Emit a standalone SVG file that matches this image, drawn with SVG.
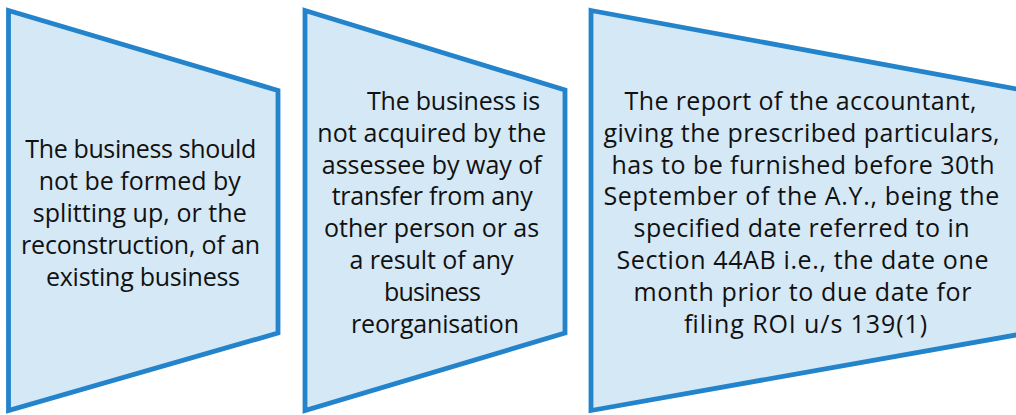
<svg xmlns="http://www.w3.org/2000/svg" width="1016" height="415" viewBox="0 0 1016 415">
<defs>
<style>
.shape{fill:#D5E8F6;stroke:#2383CB;stroke-width:4.8;stroke-linejoin:miter}
.t{font-family:"Open Sans","Noto Sans","DejaVu Sans",sans-serif;font-size:25px;fill:#111111;text-anchor:middle}
</style>
</defs>
<rect width="1016" height="415" fill="#FFFFFF"/>
<g id="connectors"></g>
<g id="node1">
<polygon class="shape" points="8.5,10.5 278,90.5 278,333 8.5,410.5"/>
<text class="t" lengthAdjust="spacingAndGlyphs">
<tspan x="143.8" y="158.3" textLength="231">The business should</tspan>
<tspan x="143" y="190.1" textLength="202">not be formed by</tspan>
<tspan x="143" y="221.9" textLength="214">splitting up, or the</tspan>
<tspan x="143.7" y="253.7" textLength="239">reconstruction, of an</tspan>
<tspan x="143" y="285.5" textLength="194">existing business</tspan>
</text>
</g>
<g id="node2">
<polygon class="shape" points="305,10.5 565,90 565,333 305,410.5"/>
<text class="t" lengthAdjust="spacingAndGlyphs">
<tspan x="456.7" y="110" textLength="173">The business is</tspan>
<tspan x="435" y="141.8" textLength="229">not acquired by the</tspan>
<tspan x="435" y="173.6" textLength="220">assessee by way of</tspan>
<tspan x="435.3" y="205.4" textLength="201">transfer from any</tspan>
<tspan x="434.8" y="237.2" textLength="215">other person or as</tspan>
<tspan x="434.7" y="269" textLength="164">a result of any</tspan>
<tspan x="435.3" y="300.8" textLength="97">business</tspan>
<tspan x="435" y="332.6" textLength="168">reorganisation</tspan>
</text>
</g>
<g id="node3">
<polygon class="shape" points="591,10.5 1030,91.5 1030,332.5 591,410.5"/>
<text class="t" lengthAdjust="spacingAndGlyphs">
<tspan x="804" y="110" textLength="352">The report of the accountant,</tspan>
<tspan x="805" y="141.8" textLength="396">giving the prescribed particulars,</tspan>
<tspan x="806.5" y="173.6" textLength="383">has to be furnished before 30th</tspan>
<tspan x="805" y="205.4" textLength="396">September of the A.Y., being the</tspan>
<tspan x="805" y="237.2" textLength="336">specified date referred to in</tspan>
<tspan x="806" y="269" textLength="372">Section 44AB i.e., the date one</tspan>
<tspan x="806" y="300.8" textLength="338">month prior to due date for</tspan>
<tspan x="805.5" y="332.6" textLength="243">filing ROI u/s 139(1)</tspan>
</text>
</g>
</svg>
